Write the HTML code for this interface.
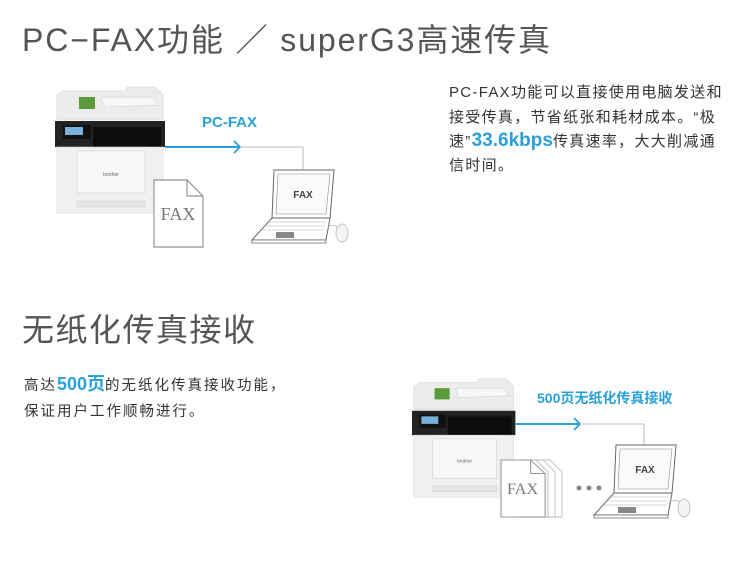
<!DOCTYPE html>
<html><head><meta charset="utf-8"><style>
body{margin:0;background:#fff;}
svg{display:block;}
.t{font-family:"Liberation Sans","Noto Sans CJK SC",sans-serif;}
</style></head><body>
<svg width="750" height="576" viewBox="0 0 750 576" xmlns="http://www.w3.org/2000/svg">
<defs>
<g id="printer">
  <path d="M8 8 L70 8 L72 4 L100 4 L108 12 L108 37 L2 37 L2 12 Z" fill="#ececec" stroke="#d0d0d0" stroke-width="0.6"/>
  <path d="M46 14 L96 14 L104 22 L50 24 Z" fill="#f7f7f7" stroke="#ccc" stroke-width="0.5"/>
  <rect x="24" y="14" width="16" height="12" fill="#5a9a3a"/>
  <path d="M0 38 L110 38 L110 64 L0 64 Z" fill="#222"/>
  <rect x="8" y="42" width="28" height="14" fill="#111"/>
  <rect x="10" y="44" width="18" height="8" fill="#7ab0d8"/>
  <rect x="38" y="44" width="68" height="20" fill="#0c0c0c"/>
  <rect x="2" y="64" width="106" height="66" fill="#f0f0f0" stroke="#d6d6d6" stroke-width="0.6"/>
  <rect x="22" y="68" width="68" height="42" fill="#f7f7f7" stroke="#d0d0d0" stroke-width="0.6"/>
  <text x="56" y="93" class="t" font-size="5" fill="#666" text-anchor="middle">brother</text>
  <rect x="22" y="118" width="68" height="6" fill="#e6e6e6" stroke="#ccc" stroke-width="0.5"/>
</g>
<g id="laptop">
  <path d="M22 0 L82 0 L78 48 L20 48 Z" fill="#fff" stroke="#666" stroke-width="1"/>
  <path d="M26 4 L78 4 L74 44 L24 44 Z" fill="#fafafa" stroke="#888" stroke-width="0.6"/>
  <text x="51" y="28" class="t" font-size="10" font-weight="bold" fill="#444" text-anchor="middle">FAX</text>
  <path d="M20 48 L78 48 L74 70 L0 70 Z" fill="#fff" stroke="#666" stroke-width="1"/>
  <path d="M15 52 L74 52 M12 56 L73 56 M9 60 L72 60" stroke="#aaa" stroke-width="0.6"/>
  <rect x="24" y="62" width="18" height="6" fill="#888"/>
  <path d="M0 70 L74 70 L74 73 L0 73 Z" fill="#fff" stroke="#666" stroke-width="0.8"/>
  <path d="M76 56 Q84 54 86 58" fill="none" stroke="#aaa" stroke-width="0.7"/>
  <ellipse cx="90" cy="63" rx="6" ry="9" fill="#f4f4f4" stroke="#bbb" stroke-width="0.8"/>
</g>
<g id="doc">
  <path d="M0 0 L33 0 L49 16 L49 67 L0 67 Z" fill="#fff" stroke="#777" stroke-width="0.9"/>
  <path d="M33 0 L33 16 L49 16" fill="none" stroke="#777" stroke-width="0.9"/>
  <text x="24" y="40" font-family="Liberation Serif,serif" font-size="18" fill="#777" text-anchor="middle">FAX</text>
</g>
</defs>

<text x="22" y="51" class="t" font-size="32" fill="#555" letter-spacing="1.9">PC−FAX功能 ／ superG3高速传真</text>

<use href="#printer" transform="translate(55,83)"/>
<use href="#doc" transform="translate(154,180)"/>
<line x1="165" y1="147" x2="240" y2="147" stroke="#2aa0d8" stroke-width="2"/>
<path d="M234 141 L240 147 L234 153" fill="none" stroke="#2aa0d8" stroke-width="1.8"/>
<path d="M240 147 L303 147 L303 170" fill="none" stroke="#bbb" stroke-width="1"/>
<text x="202" y="127" class="t" font-size="15" font-weight="bold" fill="#2aa0d8">PC-FAX</text>
<use href="#laptop" transform="translate(252,170)"/>

<g class="t" font-size="15" fill="#333" letter-spacing="1.3">
<text x="449" y="97">PC-FAX功能可以直接使用电脑发送和</text>
<text x="449" y="122">接受传真，节省纸张和耗材成本。“极</text>
<text x="449" y="146">速”<tspan font-size="19" font-weight="bold" fill="#2aa0d8" letter-spacing="0">33.6kbps</tspan>传真速率，大大削减通</text>
<text x="449" y="170">信时间。</text>
</g>

<text x="22" y="341" class="t" font-size="32" fill="#555" letter-spacing="1.5">无纸化传真接收</text>
<g class="t" font-size="14.5" fill="#333" letter-spacing="2">
<text x="24" y="390">高达<tspan font-size="18" font-weight="bold" fill="#2aa0d8" letter-spacing="0">500页</tspan>的无纸化传真接收功能，</text>
<text x="24" y="416">保证用户工作顺畅进行。</text>
</g>

<use href="#printer" transform="translate(412,375) scale(0.94)"/>
<g stroke="#aaa" stroke-width="0.7" fill="#fff">
<path d="M532 460 L550 460 L562 472 L562 517 L532 517 Z"/>
<path d="M525 460 L543 460 L555 472 L555 517 L525 517 Z"/>
<path d="M518 460 L536 460 L548 472 L548 517 L518 517 Z"/>
</g>
<use href="#doc" transform="translate(501,460) scale(0.9,0.85)"/>
<circle cx="579" cy="488" r="2.5" fill="#888"/>
<circle cx="589" cy="488" r="2.5" fill="#888"/>
<circle cx="599" cy="488" r="2.5" fill="#888"/>
<line x1="515" y1="424" x2="580" y2="424" stroke="#2aa0d8" stroke-width="2"/>
<path d="M574 418 L580 424 L574 430" fill="none" stroke="#2aa0d8" stroke-width="1.8"/>
<path d="M580 424 L644 424 L644 446" fill="none" stroke="#bbb" stroke-width="1"/>
<text x="537" y="403" class="t" font-size="14" font-weight="bold" fill="#2aa0d8">500页无纸化传真接收</text>
<use href="#laptop" transform="translate(594,445)"/>
</svg>
</body></html>
